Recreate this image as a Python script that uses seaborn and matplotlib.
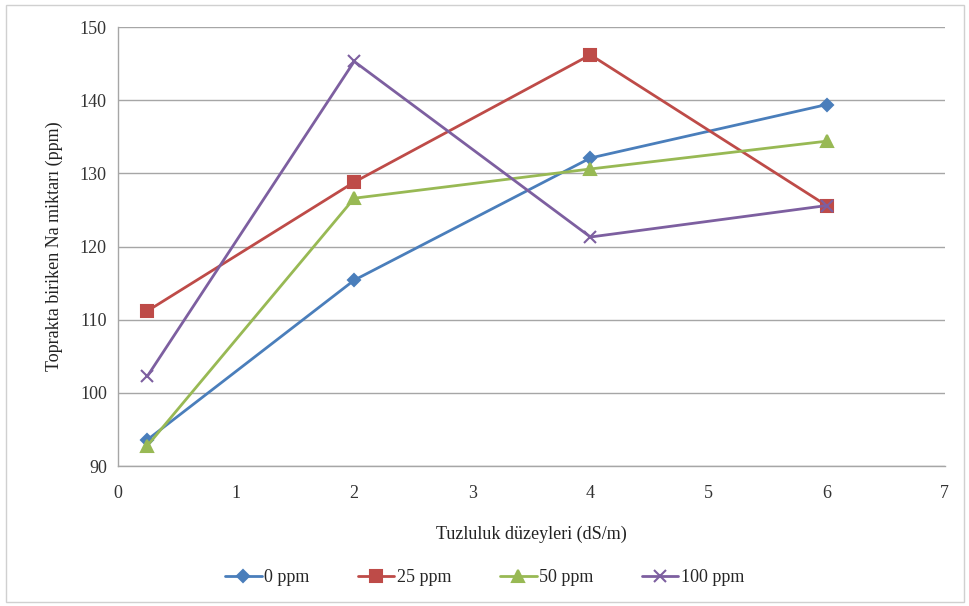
import matplotlib
matplotlib.use("Agg")
import matplotlib.pyplot as plt
import seaborn as sns
import pandas as pd
from matplotlib.patches import Rectangle

x_levels = [0.25, 2, 4, 6]
series_names = ["0 ppm", "25 ppm", "50 ppm", "100 ppm"]
s0 = [93.6, 115.4, 132.1, 139.4]
s25 = [111.2, 128.8, 146.2, 125.6]
s50 = [92.8, 126.6, 130.6, 134.4]
s100 = [102.3, 145.3, 121.3, 125.6]

colors = ["#4A7EBB", "#BE4B48", "#98B954", "#7D5FA0"]
markers = ["D", "s", "^", "x"]
msizes = [6, 9, 8, 9]

sns.set_theme(style="white")
plt.rcParams["font.family"] = ["Liberation Serif", "DejaVu Serif"]

fig = plt.figure(figsize=(9.7, 6.06), dpi=100)
ax = fig.add_axes([0.1216, 0.231, 0.8524, 0.7244])

for name, vals, c, m, ms in zip(series_names, [s0, s25, s50, s100], colors, markers, msizes):
    d = pd.DataFrame({"x": x_levels, "y": vals})
    sns.lineplot(data=d, x="x", y="y", color=c, marker=m, markersize=ms,
                 markeredgecolor=c, markeredgewidth=1.5, linewidth=2,
                 label=name, ax=ax)

ax.set_xlim(0, 7)
ax.set_ylim(90, 150)
ax.set_xticks(range(0, 8))
ax.set_yticks(range(90, 151, 10))
ax.yaxis.grid(True, color="#A6A6A6", linewidth=1)
ax.xaxis.grid(False)
ax.set_axisbelow(True)
for s in ["top", "right"]:
    ax.spines[s].set_visible(False)
for s in ["left", "bottom"]:
    ax.spines[s].set_color("#A6A6A6")
    ax.spines[s].set_linewidth(1)
ax.tick_params(axis="both", labelsize=13, colors="#333333", length=0, pad=8)
ax.tick_params(axis="x", pad=14)
ax.set_xlabel("Tuzluluk düzeyleri (dS/m)", fontsize=13, labelpad=17, color="#222222")
ax.set_ylabel("Toprakta biriken Na miktarı (ppm)", fontsize=13, labelpad=12, color="#222222")

handles, labels = ax.get_legend_handles_labels()
ax.legend_.remove()
fig.legend(handles, labels, loc="center", bbox_to_anchor=(0.5, 0.047), ncol=4,
           frameon=False, fontsize=13, handlelength=2.0, columnspacing=2.7,
           handletextpad=0.15)

fig.patches.append(Rectangle((0.006, 0.006), 0.988, 0.985, transform=fig.transFigure,
                             fill=False, edgecolor="#D0D0D0", linewidth=1))

fig.savefig("out.png", dpi=100)
